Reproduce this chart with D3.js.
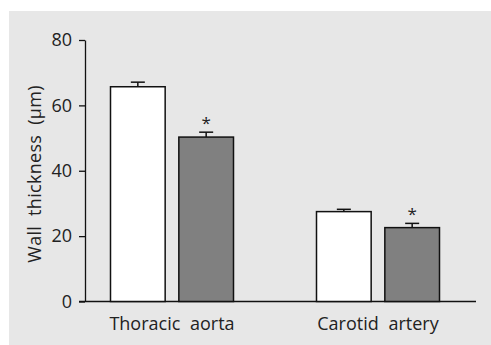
<!DOCTYPE html>
<html lang="en">
<head>
    <meta charset="UTF-8">
    <title>Wall thickness</title>
    <script src="https://d3js.org/d3.v7.min.js"></script>
    <style>
        body { margin: 0; background: #fff; }
        svg text { font-family: 'Open Sans', sans-serif; fill: #222; }
        .axis path, .axis line { stroke: #111; stroke-width: 1.3px; }
    </style>
</head>
<body>
    <div id="chart"></div>
    <script>
        const categories = ["Thoracic aorta", "Carotid artery"];
        const groups = ["control", "treated"];
        const means = { control: [65.7, 27.5], treated: [50.3, 22.6] };
        const errors = { control: [1.4, 0.7], treated: [1.5, 1.3] };
        const significant = { control: [false, false], treated: [true, true] };
        const yTicks = [0, 20, 40, 60, 80];
        const colors = { control: "#ffffff", treated: "#808080" };

        const width = 491, height = 345;
        const svg = d3.select("#chart").append("svg")
            .attr("width", width).attr("height", height);

        svg.append("rect")
            .attr("x", 9).attr("y", 11)
            .attr("width", width - 9).attr("height", height - 11)
            .attr("fill", "#e7e7e7");

        const y = d3.scaleLinear().domain([0, 80]).range([301.5, 40]);
        const x0 = d3.scaleBand().domain(categories).range([69, 481]);
        const x1 = d3.scaleBand().domain(groups).range([0, 123]).paddingInner(0.2);
        const offset = (x0.bandwidth() - 123) / 2;

        // y axis
        const yAxis = svg.append("g").attr("class", "axis")
            .attr("transform", "translate(85,0)")
            .call(d3.axisLeft(y).tickValues(yTicks).tickSize(6).tickPadding(7).tickSizeOuter(0));
        yAxis.selectAll("text").style("font-size", "18px").attr("fill", "#222");

        // x baseline
        svg.append("line")
            .attr("x1", 79).attr("x2", 476)
            .attr("y1", y(0)).attr("y2", y(0))
            .attr("stroke", "#111").attr("stroke-width", 1.3);

        const rows = [];
        categories.forEach((c, i) => {
            groups.forEach(g => {
                rows.push({ cat: c, grp: g, v: means[g][i], e: errors[g][i], sig: significant[g][i] });
            });
        });

        const bx = d => x0(d.cat) + offset + x1(d.grp);

        // error bars (upper only)
        const eb = svg.append("g");
        eb.selectAll("line.stem").data(rows).enter().append("line")
            .attr("x1", d => bx(d) + x1.bandwidth() / 2)
            .attr("x2", d => bx(d) + x1.bandwidth() / 2)
            .attr("y1", d => y(d.v)).attr("y2", d => y(d.v + d.e))
            .attr("stroke", "#111").attr("stroke-width", 1.5);
        eb.selectAll("line.cap").data(rows).enter().append("line")
            .attr("x1", d => bx(d) + x1.bandwidth() / 2 - 7)
            .attr("x2", d => bx(d) + x1.bandwidth() / 2 + 7)
            .attr("y1", d => y(d.v + d.e)).attr("y2", d => y(d.v + d.e))
            .attr("stroke", "#111").attr("stroke-width", 1.5);

        svg.append("g").selectAll("rect").data(rows).enter().append("rect")
            .attr("x", bx)
            .attr("y", d => y(d.v))
            .attr("width", x1.bandwidth())
            .attr("height", d => y(0) - y(d.v))
            .attr("fill", d => colors[d.grp])
            .attr("stroke", "#111").attr("stroke-width", 1.5);

        svg.append("g").selectAll("text").data(rows.filter(d => d.sig)).enter().append("text")
            .attr("x", d => bx(d) + x1.bandwidth() / 2)
            .attr("y", d => y(d.v + d.e) - 3)
            .attr("text-anchor", "middle")
            .style("font-size", "17px")
            .text("*");

        svg.append("g").selectAll("text").data(categories).enter().append("text")
            .attr("x", d => x0(d) + x0.bandwidth() / 2)
            .attr("y", 330)
            .attr("text-anchor", "middle")
            .style("font-size", "18px")
            .style("word-spacing", "5px")
            .text(d => d);

        svg.append("text")
            .attr("transform", "translate(41,174) rotate(-90)")
            .attr("text-anchor", "middle")
            .style("font-size", "18px")
            .style("word-spacing", "5px")
            .style("letter-spacing", "0.3px")
            .text("Wall thickness (µm)");
    </script>
</body>
</html>
